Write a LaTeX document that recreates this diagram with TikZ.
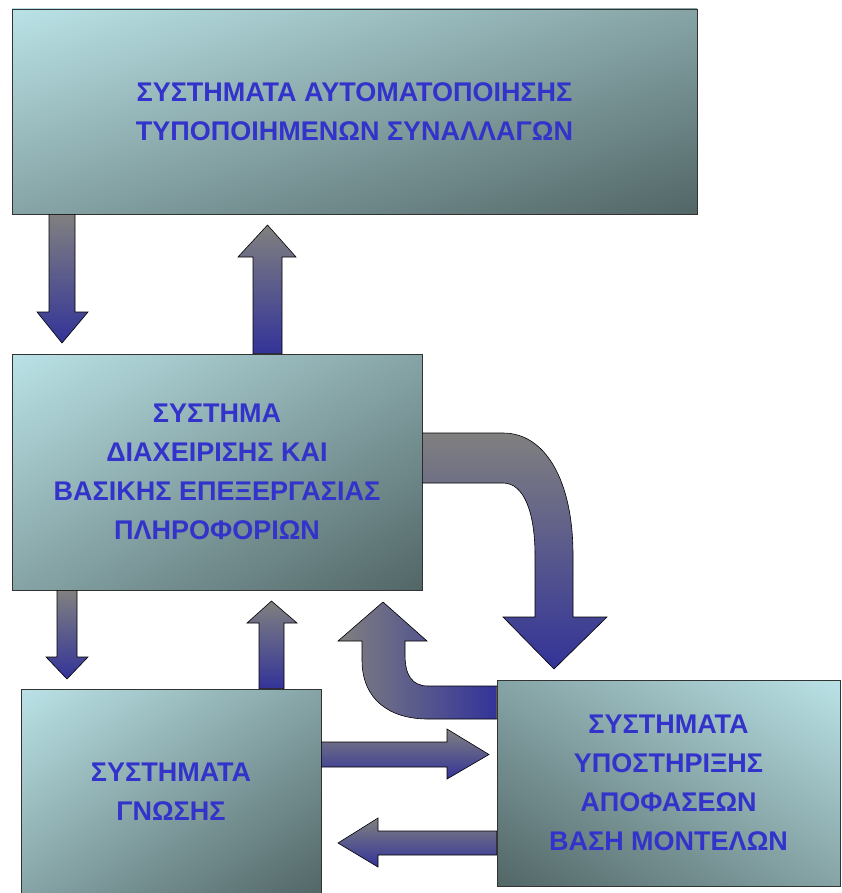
\documentclass[tikz,border=0pt]{standalone}
\usepackage{fontspec}
\setmainfont{Liberation Sans}
\usetikzlibrary{shadings}
\definecolor{boxlight}{RGB}{186,226,230}
\definecolor{boxdark}{RGB}{82,102,102}
\definecolor{arrowgray}{RGB}{128,128,128}
\definecolor{arrowblue}{RGB}{51,51,153}
\definecolor{textblue}{RGB}{51,51,204}

\begin{document}
\begin{tikzpicture}[
  x=1pt, y=-1pt,
  box/.style={rectangle, draw=black!80, line width=0.8pt, align=center, inner sep=0pt,
    text=textblue, font=\fontsize{27}{39}\selectfont\bfseries},
  fadebox/.style={upper left=boxlight, lower right=boxdark,
    upper right=boxlight!50!boxdark, lower left=boxlight!50!boxdark},
  fadeboxflip/.style={upper right=boxlight, lower left=boxdark,
    upper left=boxlight!50!boxdark, lower right=boxlight!50!boxdark},
  vblock/.style={draw=black, line width=0.6pt, top color=arrowgray, bottom color=arrowblue},
  hblock/.style={draw=black, line width=0.6pt, left color=arrowgray, right color=arrowblue}
]
\useasboundingbox (0,0) rectangle (841,893);

% boxes
\node[box, fadebox, minimum width=685pt, minimum height=205pt] (tps) at (354.5,111.5)
  {ΣΥΣΤΗΜΑΤΑ ΑΥΤΟΜΑΤΟΠΟΙΗΣΗΣ\\ΤΥΠΟΠΟΙΗΜΕΝΩΝ ΣΥΝΑΛΛΑΓΩΝ};
\node[box, fadebox, minimum width=410pt, minimum height=236pt] (dbms) at (217,472)
  {ΣΥΣΤΗΜΑ\\ΔΙΑΧΕΙΡΙΣΗΣ ΚΑΙ\\ΒΑΣΙΚΗΣ ΕΠΕΞΕΡΓΑΣΙΑΣ\\ΠΛΗΡΟΦΟΡΙΩΝ};
\node[box, fadebox, minimum width=300pt, minimum height=206pt] (kbs) at (171,792)
  {ΣΥΣΤΗΜΑΤΑ\\ΓΝΩΣΗΣ};
\node[box, fadeboxflip, minimum width=343pt, minimum height=206pt] (dss) at (668.5,783)
  {ΣΥΣΤΗΜΑΤΑ\\ΥΠΟΣΤΗΡΙΞΗΣ\\ΑΠΟΦΑΣΕΩΝ\\ΒΑΣΗ ΜΟΝΤΕΛΩΝ};

% block arrows
\path[vblock] (49,0 |- tps.south) -- (75,0 |- tps.south) -- (75,312) -- (88,312)
  -- (62,343) -- (37,312) -- (49,312) -- cycle;
\path[vblock] (253,0 |- dbms.north) -- (253,257) -- (238,257) -- (267.5,225)
  -- (296,257) -- (282,257) -- (282,0 |- dbms.north) -- cycle;
\path[vblock] (57,0 |- dbms.south) -- (77,0 |- dbms.south) -- (77,657) -- (88,657)
  -- (67,679) -- (46,657) -- (57,657) -- cycle;
\path[vblock] (259,0 |- kbs.north) -- (259,623) -- (247,623) -- (271.5,601)
  -- (297,623) -- (284,623) -- (284,0 |- kbs.north) -- cycle;
\path[vblock] (kbs.east |- 0,742) -- (447,742) -- (447,729) -- (489,754.5)
  -- (447,779) -- (447,767) -- (kbs.east |- 0,767) -- cycle;
\path[vblock] (dss.west |- 0,831) -- (378,831) -- (378,818) -- (338,843)
  -- (378,867) -- (378,855) -- (dss.west |- 0,855) -- cycle;

% bent arrows
\path[vblock] (dbms.east |- 0,433) -- (503,433) .. controls (545,433) and (573,480) .. (573,555)
  -- (573,617) -- (607,617) -- (554,669) -- (503,617) -- (535,617) -- (535,555)
  .. controls (535,515) and (525,483) .. (503,483) -- (dbms.east |- 0,483) -- cycle;
\path[hblock] (dss.west |- 0,686) -- (428,686) .. controls (412,686) and (405,675) .. (405,655)
  -- (405,641) -- (427,641) -- (383,602) -- (338,641) -- (362,641) -- (362,660)
  .. controls (362,700) and (390,719) .. (428,719) -- (dss.west |- 0,719) -- cycle;
\end{tikzpicture}
\end{document}
